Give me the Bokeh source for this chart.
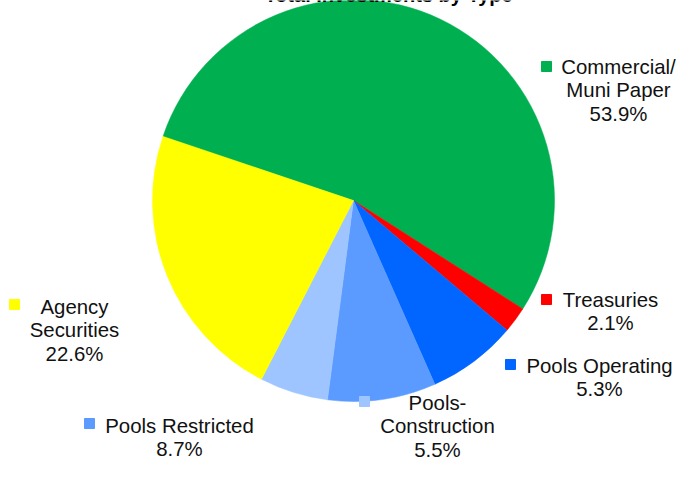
import numpy as np
from bokeh.plotting import figure
from bokeh.models import Range1d, ColumnDataSource
from bokeh.core.properties import value
from bokeh.embed import file_html
from bokeh.resources import INLINE

# ---- data (clockwise from the top-left) ----
categories = ["Commercial/ Muni Paper", "Treasuries", "Pools Operating", "Unlabeled",
              "Pools Restricted", "Pools-Construction", "Agency Securities"]
values = [53.9, 2.1, 5.3, 1.9, 8.7, 5.5, 22.6]
pct_labels = ["53.9%", "2.1%", "5.3%", "", "8.7%", "5.5%", "22.6%"]
colors = ["#00B050", "#FF0000", "#0066FF", "#0066FF", "#5B9BFF", "#9EC5FF", "#FFFF00"]
label_lines = [["Commercial/", "Muni Paper"], ["Treasuries"], ["Pools Operating"], [],
               ["Pools Restricted"], ["Pools-", "Construction"], ["Agency", "Securities"]]
title = "Total Investments by Type"

W, H = 678, 463
def Y(y):  # pixel-from-top to data
    return H - y

p = figure(width=W, height=H, output_backend="svg", toolbar_location=None,
           x_range=Range1d(0, W), y_range=Range1d(0, H), min_border=0)
p.axis.visible = False
p.grid.visible = False
p.outline_line_color = None
p.background_fill_color = "white"

# ---- pie ----
cx, cy, r = 353, 200, 201
start_deg = 161.4
vals = np.array(values, dtype=float)
spans = vals / vals.sum() * 2 * np.pi
cum = np.concatenate([[0], np.cumsum(spans)])
a0 = np.deg2rad(start_deg)
hi = list(a0 - cum[:-1])
lo = list(a0 - cum[1:])
# merge neighbouring slices of the same colour so no seam shows
st, en, cl = [], [], []
for i in range(len(vals)):
    if cl and cl[-1] == colors[i]:
        st[-1] = lo[i]
    else:
        st.append(lo[i]); en.append(hi[i]); cl.append(colors[i])
src = ColumnDataSource(dict(start=st, end=en, color=cl))
p.wedge(x=cx, y=Y(cy), radius=r, start_angle="start", end_angle="end",
        fill_color="color", line_color="color", line_width=0.5, source=src)

# ---- labels (layout) ----
layout = {
    0: dict(m=(546, 66), tx=618, ty=66),
    1: dict(m=(546, 299), tx=610, ty=299),
    2: dict(m=(510, 364), tx=599, ty=365),
    4: dict(m=(89, 423), tx=179, ty=425),
    5: dict(m=(364, 401), tx=437, ty=402),
    6: dict(m=(14, 304), tx=74, ty=306),
}
lh = 23.8
mx, my, mc = [], [], []
tx, ty, tt = [], [], []
for i, L in layout.items():
    mx.append(L["m"][0]); my.append(Y(L["m"][1])); mc.append(colors[i])
    lines = label_lines[i] + [pct_labels[i]]
    for k, s in enumerate(lines):
        tx.append(L["tx"]); ty.append(Y(L["ty"] + k * lh)); tt.append(s)

p.scatter(x=mx, y=my, marker="square", size=10, fill_color=mc, line_color=mc)
p.text(x=tx, y=ty, text=tt, text_align="center", text_baseline="middle",
       text_font=value("Liberation Sans"), text_font_size="20.4px", text_color="#111111")

# ---- title (cut off at the top, as in the reference) ----
p.text(x=[388], y=[Y(-6)], text=[title], text_align="center", text_baseline="alphabetic",
       text_font=value("Liberation Sans"), text_font_size="20px", text_font_style="bold",
       text_color="#000000")

open("out.html", "w").write(file_html(p, INLINE))
